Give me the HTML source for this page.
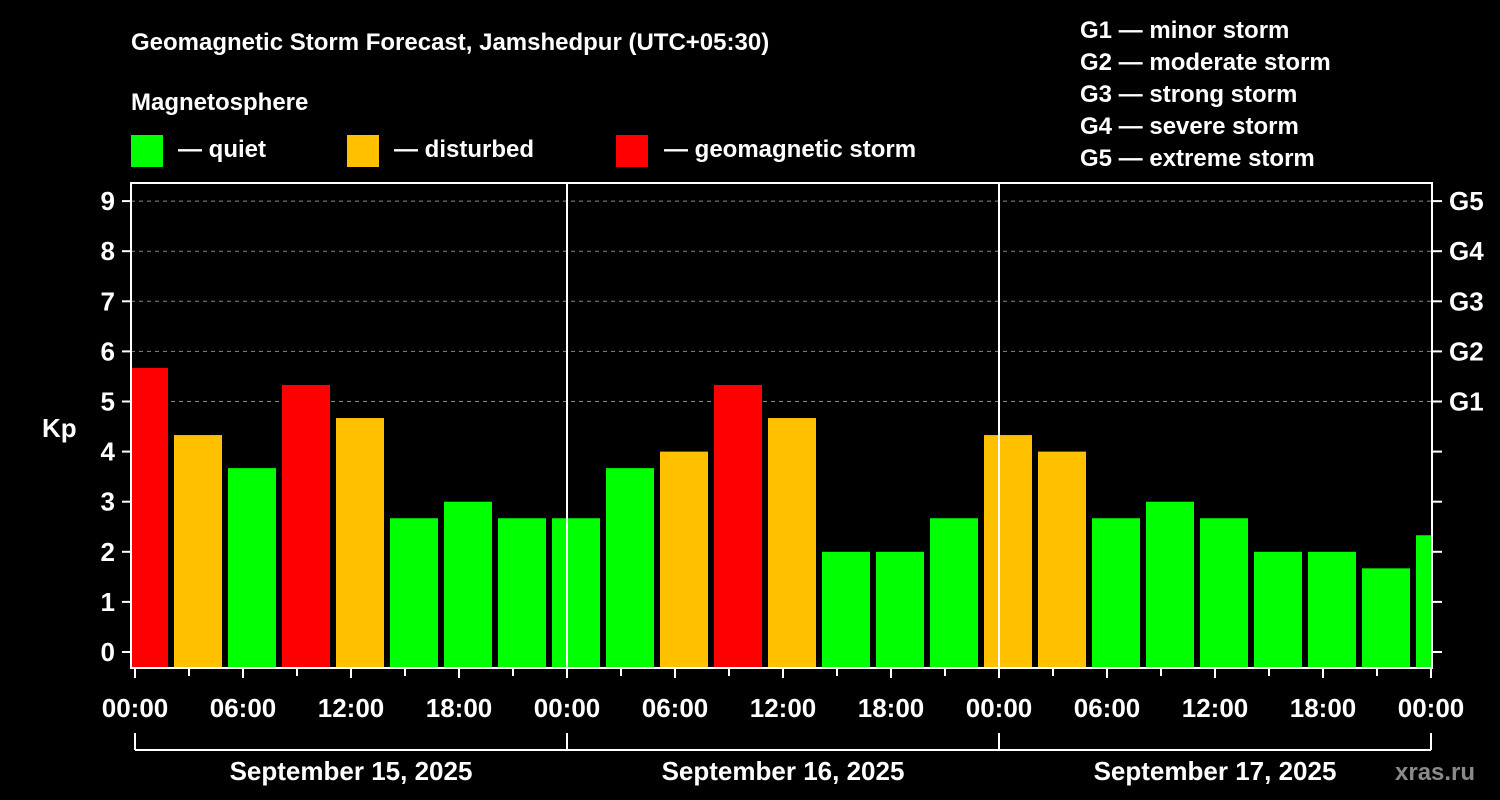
<!DOCTYPE html>
<html><head><meta charset="utf-8"><style>
html,body{margin:0;padding:0;background:#000;}
svg{display:block;font-family:"Liberation Sans",Arial,sans-serif;font-weight:bold;}
</style></head><body>
<svg id="chart" width="1500" height="800" viewBox="0 0 1500 800" xmlns="http://www.w3.org/2000/svg">
<rect width="1500" height="800" fill="#000"/>
<text x="131" y="50" fill="#fff" font-size="24">Geomagnetic Storm Forecast, Jamshedpur (UTC+05:30)</text>
<text x="131" y="110" fill="#fff" font-size="24">Magnetosphere</text>
<g><rect x="131" y="135" width="32" height="32" fill="#00ff00"/><text x="178" y="157" fill="#fff" font-size="24">— quiet</text></g>
<g><rect x="347" y="135" width="32" height="32" fill="#ffc000"/><text x="394" y="157" fill="#fff" font-size="24">— disturbed</text></g>
<g><rect x="616" y="135" width="32" height="32" fill="#ff0000"/><text x="664" y="157" fill="#fff" font-size="24">— geomagnetic storm</text></g>
<g fill="#fff" font-size="24">
<text x="1080" y="38">G1 — minor storm</text>
<text x="1080" y="70">G2 — moderate storm</text>
<text x="1080" y="102">G3 — strong storm</text>
<text x="1080" y="134">G4 — severe storm</text>
<text x="1080" y="166">G5 — extreme storm</text>
</g>
<text x="42" y="437" fill="#fff" font-size="26">Kp</text>
<text x="1395" y="780" fill="#8a8a8a" font-size="24">xras.ru</text>
<defs><clipPath id="plotclip"><rect x="132" y="183" width="1299" height="485"/></clipPath></defs>
<g id="grid"></g>
<g id="bars" clip-path="url(#plotclip)"></g>
<g id="axes"></g>
</svg>
<script>
const kpValues = [5.67,4.33,3.67,5.33,4.67,2.67,3.0,2.67,2.67,3.67,4.0,5.33,4.67,2.0,2.0,2.67,4.33,4.0,2.67,3.0,2.67,2.0,2.0,1.67,2.33];
const yTicks = [0,1,2,3,4,5,6,7,8,9];
const gLabels = ["G1","G2","G3","G4","G5"];
const gLevels = [5,6,7,8,9];
const xTickLabels = ["00:00","06:00","12:00","18:00","00:00","06:00","12:00","18:00","00:00","06:00","12:00","18:00","00:00"];
const dateLabels = ["September 15, 2025","September 16, 2025","September 17, 2025"];

const NS="http://www.w3.org/2000/svg";
const X0=135, PXH=18, Y0=652, PXK=50.1, LEFT=131, RIGHT=1432, TOP=183, BOTTOM=668;
const firstSlotStartH=-1, slotH=3;
function xScale(h){return X0+h*PXH;}
function yScale(v){return Y0-v*PXK;}
function mk(tag,attrs,parent){const e=document.createElementNS(NS,tag);for(const k in attrs)e.setAttribute(k,attrs[k]);parent.appendChild(e);return e;}
function color(v){return v>=5?"#ff0000":(v>=4?"#ffc000":"#00ff00");}
const grid=document.getElementById('grid'),bars=document.getElementById('bars'),axes=document.getElementById('axes');

gLevels.forEach((lv,i)=>{
  const l=mk('line',{x1:LEFT,x2:RIGHT,y1:yScale(lv),y2:yScale(lv),stroke:"#888","stroke-width":1,"stroke-dasharray":"4,4"},grid);
  
  
  const t=mk('text',{x:1449,y:yScale(lv)+9,fill:"#fff","font-size":26},axes);
  t.textContent=gLabels[i];
  
  
});

kpValues.forEach((v,i)=>{
  const s=xScale(firstSlotStartH+i*slotH);
  const r=mk('rect',{x:s+3,y:yScale(v),width:48,height:BOTTOM-yScale(v),fill:color(v)},bars);
  
  
});

// day separators
[1,2].forEach(d=>{
  const l=mk('line',{x1:xScale(24*d),x2:xScale(24*d),y1:TOP,y2:BOTTOM,stroke:"#fff","stroke-width":2},axes);
  
  
});

// frame
const f=mk('rect',{x:LEFT,y:TOP,width:RIGHT-LEFT,height:BOTTOM-TOP,fill:"none",stroke:"#fff","stroke-width":2},axes);



yTicks.forEach(v=>{
  const y=yScale(v);
  mk('line',{x1:122,x2:LEFT,y1:y,y2:y,stroke:"#fff","stroke-width":2},axes);
  mk('line',{x1:RIGHT,x2:1442,y1:y,y2:y,stroke:"#fff","stroke-width":2},axes);
  const t=mk('text',{x:115,y:y+9,fill:"#fff","font-size":26,"text-anchor":"end"},axes);
  t.textContent=String(v);
  
  
});

for(let h=0;h<=72;h+=3){
  const major=h%6===0;
  mk('line',{x1:xScale(h),x2:xScale(h),y1:BOTTOM,y2:major?678:676,stroke:"#fff","stroke-width":2},axes);
}
xTickLabels.forEach((lab,i)=>{
  const t=mk('text',{x:xScale(i*6),y:717,fill:"#fff","font-size":26,"text-anchor":"middle"},axes);
  t.textContent=lab;
  
  
});

mk('line',{x1:xScale(0),x2:xScale(72),y1:750,y2:750,stroke:"#fff","stroke-width":2},axes);
for(let d=0;d<=3;d++){
  mk('line',{x1:xScale(24*d),x2:xScale(24*d),y1:733,y2:750,stroke:"#fff","stroke-width":2},axes);
}
dateLabels.forEach((lab,i)=>{
  const t=mk('text',{x:xScale(24*i+12),y:780,fill:"#fff","font-size":26,"text-anchor":"middle"},axes);
  t.textContent=lab;
  
  
});
</script>
</body></html>
